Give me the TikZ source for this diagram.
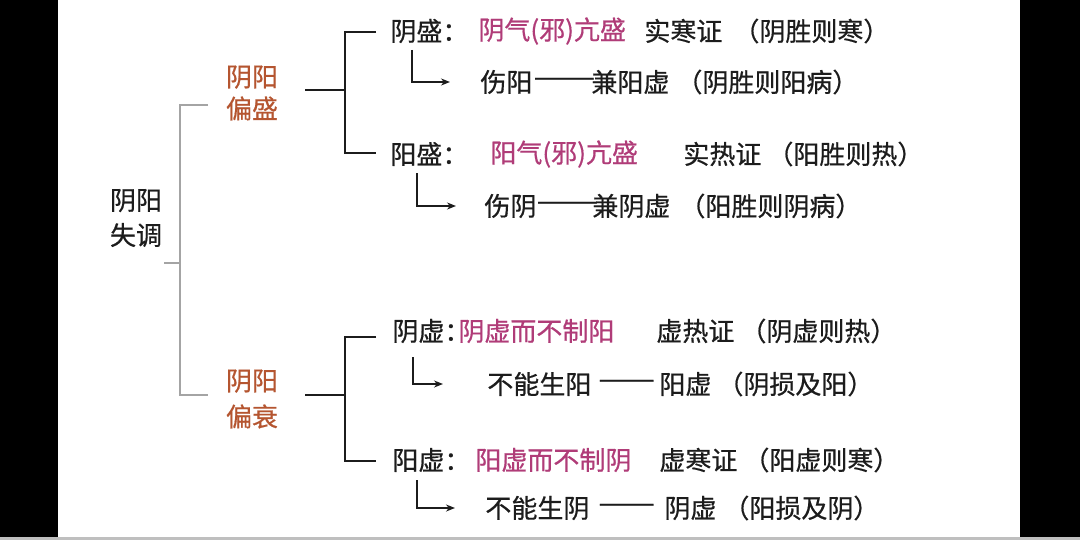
\documentclass[tikz,border=0pt]{standalone}
\usepackage{fontspec}
\usepackage{graphicx}
\newfontfamily\cjk[FakeBold=0.6]{Noto Sans CJK SC}
\usetikzlibrary{arrows.meta}
\definecolor{pinktxt}{HTML}{B03C78}
\definecolor{browntxt}{HTML}{B55530}
\definecolor{blacktxt}{HTML}{1C1C1C}
\definecolor{graybr}{HTML}{A4A4A4}
\newcommand{\longdash}{\scalebox{1.42}[1]{——}}
\newcommand{\middash}{\scalebox{1.3}[1]{——}}
\begin{document}
\begin{tikzpicture}[x=0.5pt,y=-0.5pt,
  txt/.style={inner sep=0pt,anchor=west,font=\cjk\fontsize{13pt}{16pt}\selectfont,text=blacktxt},
  pk/.style={txt,text=pinktxt},
  head/.style={inner sep=0pt,align=center,font=\cjk\fontsize{13pt}{16pt}\selectfont},
  blk/.style={draw=blacktxt,line width=1.25pt},
  gry/.style={draw=graybr,line width=0.7pt},
  arr/.style={blk,line width=1.1pt,-{Stealth[length=4.5pt,width=3.5pt]}}]
\useasboundingbox (0,0) rectangle (1080,540);
\fill[white] (0,0) rectangle (1080,540);
\fill[black] (0,0) rectangle (58,537);
\fill[black] (1020,0) rectangle (1080,537);
\fill[graybr!70] (0,537) rectangle (1080,540);

% left heads
\node[head,text=blacktxt,font=\cjk\fontsize{13pt}{17.5pt}\selectfont] (sy) at (136,218) {阴阳\\失调};
\node[head,text=browntxt] (pys) at (252,93) {阴阳\\偏盛};
\node[head,text=browntxt,font=\cjk\fontsize{13pt}{18pt}\selectfont] (pyw) at (252,399) {阴阳\\偏衰};

% row 1
\node[txt] (ys) at (390,31) {阴盛：};
\node[pk] (ys2) at (478,31) {阴气(邪)亢盛};
\node[txt] (ys3) at (644,31) {实寒证};
\node[txt] (ys4) at (733,31) {（阴胜则寒）};
% row 2
\node[txt] (sy1) at (480,82) {伤阳};
\node[txt] (sy1d) at (533,82) {\longdash};
\node[txt] (sy2) at (591,82) {兼阳虚};
\node[txt] (sy3) at (676,82) {（阴胜则阳病）};
% row 3
\node[txt] (yg) at (390,154) {阳盛：};
\node[pk] (yg2) at (490,154) {阳气(邪)亢盛};
\node[txt] (yg3) at (683,154) {实热证};
\node[txt] (yg4) at (767,154) {（阳胜则热）};
% row 4
\node[txt] (sn1) at (484,206) {伤阴};
\node[txt] (sn1d) at (536,206) {\longdash};
\node[txt] (sn2) at (592,206) {兼阴虚};
\node[txt] (sn3) at (679,206) {（阳胜则阴病）};
% row 5
\node[txt] (yx) at (392,331) {阴虚：};
\node[pk] (yx2) at (458,331) {阴虚而不制阳};
\node[txt] (yx3) at (656,331) {虚热证};
\node[txt] (yx4) at (740,331) {（阴虚则热）};
% row 6
\node[txt] (bn1) at (487,384) {不能生阳};
\node[txt] (bn2) at (598,384) {\middash};
\node[txt] (bn3) at (659,384) {阳虚};
\node[txt] (bn4) at (717,384) {（阴损及阳）};
% row 7
\node[txt] (gx) at (392,460) {阳虚：};
\node[pk] (gx2) at (475,460) {阳虚而不制阴};
\node[txt] (gx3) at (659,460) {虚寒证};
\node[txt] (gx4) at (743,460) {（阳虚则寒）};
% row 8
\node[txt] (bm1) at (485,508) {不能生阴};
\node[txt] (bm2) at (598,508) {\middash};
\node[txt] (bm3) at (664,508) {阴虚};
\node[txt] (bm4) at (723,508) {（阳损及阴）};

% gray bracket
\coordinate (g0) at (164,263);
\coordinate (gm) at (180,263);
\coordinate (gt) at (208,105);
\coordinate (gb) at (208,395);
\draw[gry] (g0) -- (gm);
\draw[gry] (gt) -| (gm) |- (gb);

% black brackets
\coordinate (b1) at (345,90);
\coordinate (b1a) at (305,90);
\coordinate (b1t) at (376,32);
\coordinate (b1b) at (376,153);
\draw[blk] (b1a) -- (b1);
\draw[blk] (b1t) -| (b1) |- (b1b);

\coordinate (b2) at (345,395);
\coordinate (b2a) at (305,395);
\coordinate (b2t) at (376,337);
\coordinate (b2b) at (376,461);
\draw[blk] (b2a) -- (b2);
\draw[blk] (b2t) -| (b2) |- (b2b);

% arrows
\coordinate (a1) at (412,50);
\coordinate (a2) at (417,173);
\coordinate (a3) at (413,357);
\coordinate (a4) at (417,480);
\draw[arr] (a1) |- ([xshift=-15]sy1.west);
\draw[arr] (a2) |- ([xshift=-14]sn1.west);
\draw[arr] (a3) |- ([xshift=-22]bn1.west);
\draw[arr] (a4) |- ([xshift=-15]bm1.west);
\end{tikzpicture}
\end{document}
